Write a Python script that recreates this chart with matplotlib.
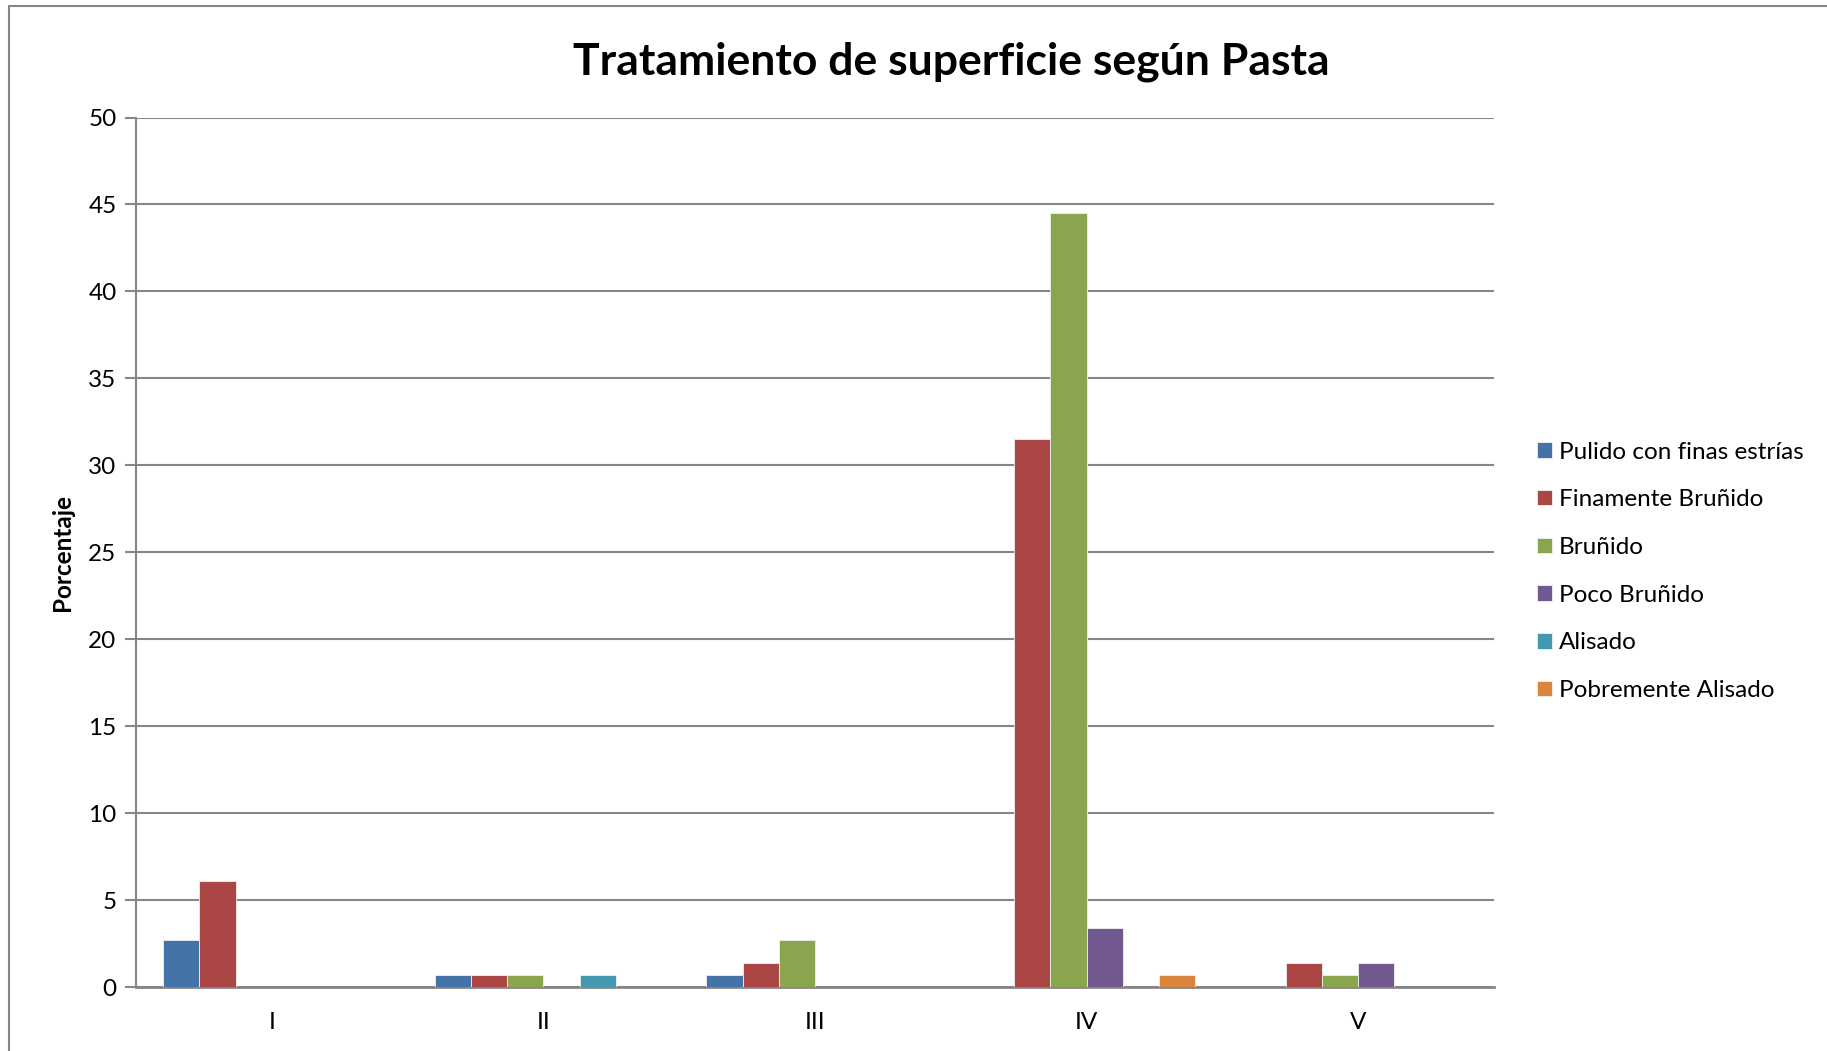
import matplotlib.pyplot as plt
import matplotlib.patches as mpatches
import numpy as np

# categorías (pasta) y series (tratamiento de superficie)
pastas = ['I', 'II', 'III', 'IV', 'V']
tratamientos = ['Pulido con finas estrías', 'Finamente Bruñido', 'Bruñido',
                'Poco Bruñido', 'Alisado', 'Pobremente Alisado']

pulido = [2.7, 0.68, 0.68, 0, 0]
finamente_brunido = [6.1, 0.68, 1.37, 31.5, 1.37]
brunido = [0, 0.68, 2.7, 44.5, 0.68]
poco_brunido = [0, 0, 0, 3.4, 1.37]
alisado = [0, 0.7, 0, 0, 0]
pobremente_alisado = [0, 0, 0, 0.7, 0]

series = [pulido, finamente_brunido, brunido, poco_brunido, alisado, pobremente_alisado]
colors = ['#4572A7', '#AA4643', '#89A54E', '#71588F', '#4198AF', '#DB843D']

plt.rcParams['font.family'] = ['Lato', 'DejaVu Sans']

fig = plt.figure(figsize=(18.27, 10.51), dpi=100)
ax = fig.add_axes([136 / 1827, 1 - 987 / 1051, (1494 - 136) / 1827, (987 - 117.5) / 1051])

# marco exterior del gráfico
fig.patches.append(mpatches.Rectangle((9 / 1827, -0.01), 1.1, 1 - 6 / 1051 + 0.01,
                                      transform=fig.transFigure, fill=False,
                                      edgecolor='#868686', linewidth=1.5))

x = np.arange(len(pastas))
w = 1 / 7.5
for i, (vals, c) in enumerate(zip(series, colors)):
    ax.bar(x + (i - 2.5) * w, vals, width=w, color=c, edgecolor='#f0f0f0',
           linewidth=0.6, label=tratamientos[i], zorder=3)

ax.set_xlim(-0.5, 4.5)
ax.set_ylim(0, 50)
ax.set_yticks(range(0, 51, 5))
ax.set_xticks(x)
ax.set_xticklabels(pastas)
ax.yaxis.grid(True, color='#868686', linewidth=1.5, zorder=0)
ax.set_axisbelow(True)
for s in ['top', 'right']:
    ax.spines[s].set_visible(False)
ax.spines['left'].set_color('#868686')
ax.spines['bottom'].set_color('#868686')
ax.spines['left'].set_linewidth(1.5)
ax.spines['bottom'].set_linewidth(2)
ax.tick_params(axis='y', length=8, width=1.5, color='#868686', labelsize=17.5, pad=6)
ax.tick_params(axis='x', length=0, labelsize=17.5, pad=18)

ax.set_ylabel('Porcentaje', fontsize=17.5, fontweight='bold', labelpad=10)
fig.text(951 / 1827, 1 - 62 / 1051, 'Tratamiento de superficie según Pasta',
         ha='center', va='center', fontsize=32, fontweight='bold')

ax.legend(loc='center left', bbox_to_anchor=(1.0155, 0.478), frameon=False,
          fontsize=17.5, handlelength=0.6, handleheight=0.6, handletextpad=0.3,
          labelspacing=1.1)

fig.savefig('out.png', dpi=100)
